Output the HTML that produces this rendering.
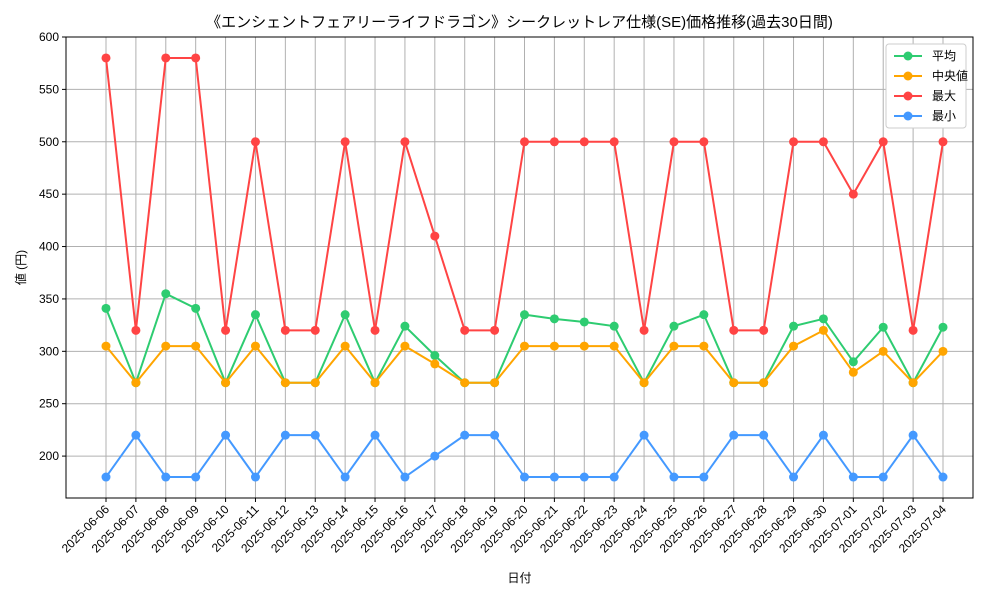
<!DOCTYPE html>
<html><head><meta charset="utf-8">
<style>
html,body{margin:0;padding:0;background:#fff;}
svg{display:block;font-family:"Liberation Sans","Noto Sans CJK JP",sans-serif;}
</style></head>
<body>
<svg id="chart" width="1000" height="600"></svg>
<script>
const dates=["2025-06-06","2025-06-07","2025-06-08","2025-06-09","2025-06-10","2025-06-11","2025-06-12","2025-06-13","2025-06-14","2025-06-15","2025-06-16","2025-06-17","2025-06-18","2025-06-19","2025-06-20","2025-06-21","2025-06-22","2025-06-23","2025-06-24","2025-06-25","2025-06-26","2025-06-27","2025-06-28","2025-06-29","2025-06-30","2025-07-01","2025-07-02","2025-07-03","2025-07-04"];
const avgVals=[341,270,355,341,270,335,270,270,335,270,324,296,270,270,335,331,328,324,270,324,335,270,270,324,331,290,323,270,323];
const medVals=[305,270,305,305,270,305,270,270,305,270,305,288,270,270,305,305,305,305,270,305,305,270,270,305,320,280,300,270,300];
const maxVals=[580,320,580,580,320,500,320,320,500,320,500,410,320,320,500,500,500,500,320,500,500,320,320,500,500,450,500,320,500];
const minVals=[180,220,180,180,220,180,220,220,180,220,180,200,220,220,180,180,180,180,220,180,180,220,220,180,220,180,180,220,180];
const yTicks=[200,250,300,350,400,450,500,550,600];
const seriesNames=["平均","中央値","最大","最小"];

const NS="http://www.w3.org/2000/svg";
const svg=document.getElementById('chart');
const L=66,R=973,T=37,B=498;
const yMin=160,yMax=600;
const x0=106,x1=943;
function xs(i){return x0+(x1-x0)*i/(dates.length-1);}
function ys(v){return B-(v-yMin)/(yMax-yMin)*(B-T);}
function mk(tag,attrs,parent){const e=document.createElementNS(NS,tag);for(const k in attrs)e.setAttribute(k,attrs[k]);(parent||svg).appendChild(e);return e;}

// grid
const grid=mk('g',{});


dates.forEach((d,i)=>{mk('line',{x1:xs(i),x2:xs(i),y1:T,y2:B,stroke:'#b0b0b0','stroke-width':1},grid);});
yTicks.forEach(v=>{mk('line',{x1:L,x2:R,y1:ys(v),y2:ys(v),stroke:'#b0b0b0','stroke-width':1},grid);});

// axes frame
const frame=mk('rect',{x:L,y:T,width:R-L,height:B-T,fill:'none',stroke:'#000','stroke-width':1});



// y ticks
yTicks.forEach(v=>{
  mk('line',{x1:L-4,x2:L,y1:ys(v),y2:ys(v),stroke:'#000'});
  const t=mk('text',{x:L-7,y:ys(v)+4,'text-anchor':'end','font-size':12});
  t.textContent=v;
  
  
});
// x ticks
dates.forEach((d,i)=>{
  mk('line',{x1:xs(i),x2:xs(i),y1:B,y2:B+4,stroke:'#000'});
  const t=mk('text',{x:xs(i)+4,y:B+12,'text-anchor':'end','font-size':12,transform:`rotate(-45 ${xs(i)+4} ${B+12})`});
  t.textContent=d;
  
  
});

// series
const colors=['#2ecc71','#ffa500','#ff4444','#4499ff'];
const data=[avgVals,medVals,maxVals,minVals];
const order=[0,1,2,3];
order.forEach(s=>{
  const g=mk('g',{});
  
  
  const pts=data[s].map((v,i)=>xs(i)+','+ys(v)).join(' ');
  mk('polyline',{points:pts,fill:'none',stroke:colors[s],'stroke-width':2},g);
  data[s].forEach((v,i)=>{
    const c=mk('circle',{cx:xs(i),cy:ys(v),r:4.5,fill:colors[s]},g);
    
    
  });
});

// title & labels
const title=mk('text',{x:(L+R)/2,y:27,'text-anchor':'middle','font-size':15});
title.textContent='《エンシェントフェアリーライフドラゴン》シークレットレア仕様(SE)価格推移(過去30日間)';


const xl=mk('text',{x:(L+R)/2,y:582,'text-anchor':'middle','font-size':12});
xl.textContent='日付';


const yl=mk('text',{x:25,y:(T+B)/2,'text-anchor':'middle','font-size':12,transform:`rotate(-90 25 ${(T+B)/2})`});
yl.textContent='値 (円)';



// legend
const lg=mk('g',{});


mk('rect',{x:886,y:44,width:80,height:84,fill:'#fff',stroke:'#ccc',rx:3},lg);
seriesNames.forEach((n,k)=>{
  const y=56+k*20;
  const e=mk('g',{},lg);
  
  
  mk('line',{x1:894,x2:922,y1:y,y2:y,stroke:colors[k],'stroke-width':2},e);
  mk('circle',{cx:908,cy:y,r:4.5,fill:colors[k]},e);
  const t=mk('text',{x:932,y:y+4,'font-size':12},e);
  t.textContent=(k===1?' ':'')+n;
});
</script>
</body></html>
